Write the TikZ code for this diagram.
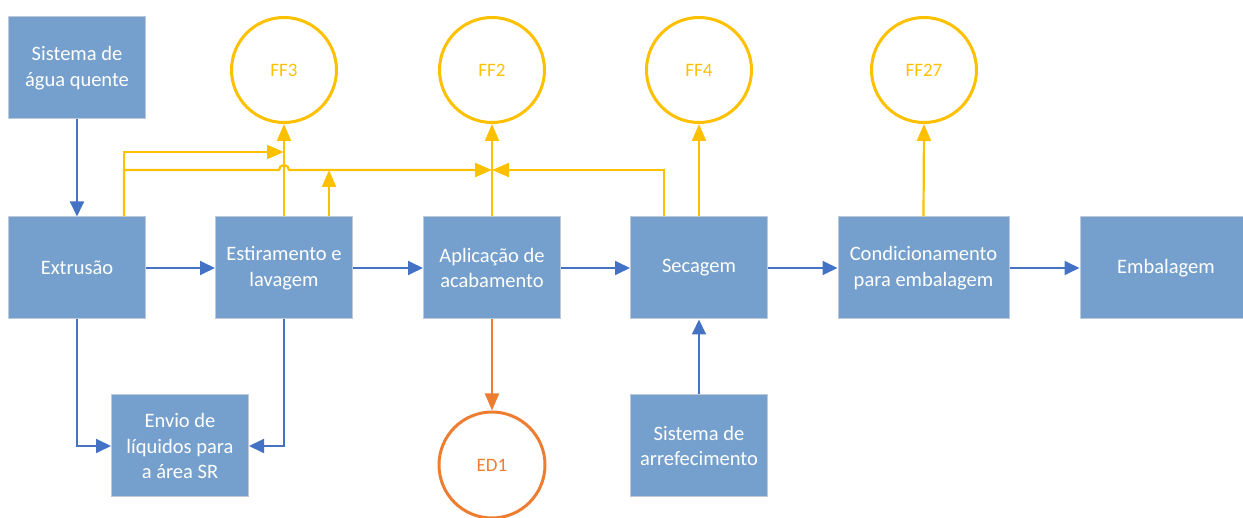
\documentclass[tikz,border=0pt]{standalone}
\usepackage{fontspec}
\setmainfont{Carlito}
\usetikzlibrary{arrows.meta}
\definecolor{boxfill}{RGB}{117,160,205}
\definecolor{boxline}{RGB}{190,202,218}
\definecolor{flowblue}{RGB}{68,114,196}
\definecolor{ffyellow}{RGB}{255,192,0}
\definecolor{edorange}{RGB}{237,125,49}
\tikzset{
  procbox/.style={rectangle, fill=boxfill, draw=boxline, line width=1pt,
    minimum width=137pt, minimum height=102pt, text=white, align=center,
    font=\fontsize{20.5}{25.5}\selectfont},
  ffcircle/.style={circle, draw=ffyellow, line width=3pt, minimum size=105pt,
    text=ffyellow, font=\fontsize{19}{23}\selectfont, inner sep=0pt},
  edcircle/.style={ffcircle, draw=edorange, text=edorange},
  barrow/.style={draw=flowblue, line width=1.8pt, -{Triangle[length=15pt,width=14pt]}},
  yarrow/.style={draw=ffyellow, line width=2.2pt, -{Triangle[length=17pt,width=14pt]}},
  oarrow/.style={draw=edorange, line width=2.2pt, -{Triangle[length=17pt,width=14pt]}},
}
\begin{document}
\begin{tikzpicture}[x=1pt,y=-1pt]
\useasboundingbox (0,0) rectangle (1243,518);
% process boxes
\node[procbox] (agua) at (77,68) {Sistema de\\água quente};
\node[procbox] (extr) at (77,268) {Extrusão};
\node[procbox] (estir) at (284,268) {Estiramento e\\lavagem};
\node[procbox] (aplic) at (492,268) {Aplicação de\\acabamento};
\node[procbox] (sec) at (699,268) {Secagem};
\node[procbox, minimum width=171pt] (cond) at (923.5,268) {Condicionamento\\para embalagem};
\node[procbox, minimum width=172pt] (emb) at (1166,268) {Embalagem};
\node[procbox] (envio) at (180,446) {Envio de\\líquidos para\\a área SR};
\node[procbox] (arref) at (699,446) {Sistema de\\arrefecimento};
% circles
\node[ffcircle] (ff3) at (284,70) {FF3};
\node[ffcircle] (ff2) at (492,70) {FF2};
\node[ffcircle] (ff4) at (699,70) {FF4};
\node[ffcircle] (ff27) at (924,70) {FF27};
\node[edcircle, minimum size=106pt] (ed1) at (492,465) {ED1};
% junction coordinates
\coordinate (j3) at (284,152);
\coordinate (j2) at (492,170);
% blue flows
\draw[barrow] (agua) -- (extr);
\draw[barrow] (extr) -- (estir);
\draw[barrow] (estir) -- (aplic);
\draw[barrow] (aplic) -- (sec);
\draw[barrow] (sec) -- (cond);
\draw[barrow] (cond) -- (emb);
\draw[barrow] (extr.south) |- (envio.west);
\draw[barrow] (estir.south) |- (envio.east);
\draw[barrow] (arref) -- (sec);
% orange
\draw[oarrow] (aplic) -- (ed1);
% yellow
\draw[yarrow] (estir.north) -- (ff3.south);
\draw[yarrow] (aplic.north) -- (ff2.south);
\draw[yarrow] (sec.north) -- (ff4.south);
\draw[yarrow] (cond.north) -- (ff27.south);
\draw[yarrow] ([xshift=47pt]extr.north) |- (j3);
\draw[yarrow] ([xshift=47pt]extr.north) |- (279,170)
  arc[start angle=180,end angle=0,radius=5pt] -- (j2);
\draw[yarrow] ([xshift=45pt]estir.north) -- ([xshift=45pt]estir.north |- j2);
\draw[yarrow] ([xshift=-35pt]sec.north) |- (j2);
\end{tikzpicture}
\end{document}
